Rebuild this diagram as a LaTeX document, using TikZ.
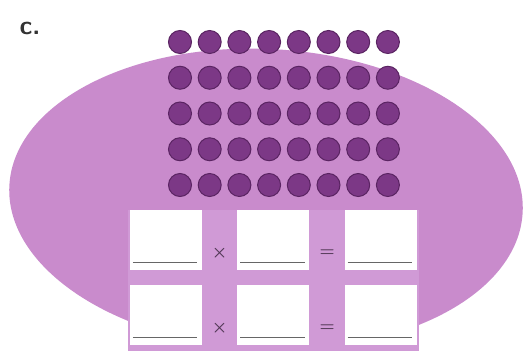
\documentclass[tikz,border=0pt]{standalone}
\usepackage{tikz}
\usetikzlibrary{positioning, shapes.geometric}
\definecolor{lilas}{HTML}{C98BCC}
\definecolor{lilasclaro}{HTML}{D09AD6}
\definecolor{roxo}{HTML}{7C3886}
\definecolor{roxoesc}{HTML}{5A2462}

\begin{document}
\begin{tikzpicture}[
    x=1pt, y=-1pt,
    node distance=15pt and 35pt,
    bola/.style={
        circle, draw=roxoesc, line width=1pt, fill=roxo,
        minimum size=23pt, inner sep=0pt
    },
    caixa/.style={
        rectangle, fill=white,
        minimum width=72pt, minimum height=60pt, inner sep=0pt
    },
    linha/.style={line width=1.2pt, color=black!60},
    sinal/.style={font=\fontsize{18}{18}\selectfont\boldmath, text=roxoesc!55!black!85}
]
\useasboundingbox (0,0) rectangle (527,351);

% fundo
\node[ellipse, fill=lilas, minimum width=514pt, minimum height=300pt, rotate=-3] (oval) at (266,199) {};
\fill[lilasclaro] (128,210) rectangle (419,351);

% bolinhas 8 x 5
\foreach \l in {1,...,5}
  \foreach \c in {1,...,8}
    \node[bola] (b\l\c) at ({150.3+29.7*\c}, {6.25+35.75*\l}) {};

% caixas
\node[caixa] (c11) at (166,240) {};
\node[caixa, right=of c11] (c12) {};
\node[caixa, right=of c12] (c13) {};
\node[caixa, below=of c11] (c21) {};
\node[caixa, right=of c21] (c22) {};
\node[caixa, right=of c22] (c23) {};

\foreach \n in {c11,c12,c13,c21,c22,c23}
  \draw[linha] ([xshift=3pt, yshift=8pt]\n.south west) -- ([xshift=-5pt, yshift=8pt]\n.south east);

% sinais
\path (c11) -- (c12) node[midway, yshift=-13pt, sinal] (vezes1) {$\times$};
\path (c12) -- (c13) node[midway, yshift=-13pt, sinal] (igual1) {$=$};
\path (c21) -- (c22) node[midway, yshift=-13pt, sinal] (vezes2) {$\times$};
\path (c22) -- (c23) node[midway, yshift=-13pt, sinal] (igual2) {$=$};

\node[font=\fontsize{26}{30}\selectfont\sffamily\bfseries, text=black!80] (letra) at (30,28) {c.};
\end{tikzpicture}
\end{document}
